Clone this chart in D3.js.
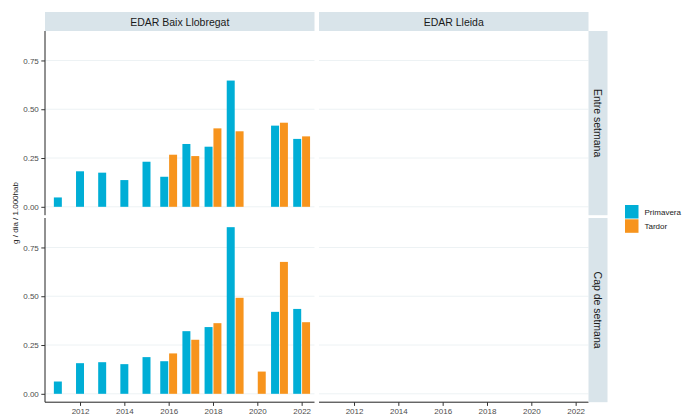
<!DOCTYPE html>
<html><head><meta charset="utf-8">
<script src="https://cdn.jsdelivr.net/npm/d3@7"></script>
<style>body{margin:0;background:#fff;}svg{display:block;font-family:"Liberation Sans",Arial,sans-serif;}</style>
</head><body><svg id="c" width="688" height="414"></svg>
<script>
const years = [2011,2012,2013,2014,2015,2016,2017,2018,2019,2020,2021,2022];
const series = ["Primavera","Tardor"];
const colors = ["#00AED6","#F7941D"];
const plants = ["EDAR Baix Llobregat","EDAR Lleida"];
const periods = ["Entre setmana","Cap de setmana"];
// Baix Llobregat, Entre setmana
const bllEntrePrimavera = [0.048,0.182,0.175,0.137,0.231,0.154,0.322,0.308,0.647,null,0.416,0.348];
const bllEntreTardor    = [null,null,null,null,null,0.267,0.260,0.402,0.387,null,0.431,0.361];
// Baix Llobregat, Cap de setmana
const bllCapPrimavera = [0.063,0.157,0.162,0.152,0.188,0.167,0.321,0.342,0.854,0,0.420,0.435];
const bllCapTardor    = [null,null,null,null,null,0.207,0.277,0.362,0.492,0.114,0.676,0.367];
const xTicks = [2012,2014,2016,2018,2020,2022];
const yTicks = [0,0.25,0.5,0.75];
const yTickLabels = ["0.00","0.25","0.50","0.75"];
const yLabel = "g / dia / 1.000hab";

const panelData = {
  "EDAR Baix Llobregat|Entre setmana":[bllEntrePrimavera,bllEntreTardor],
  "EDAR Baix Llobregat|Cap de setmana":[bllCapPrimavera,bllCapTardor],
  "EDAR Lleida|Entre setmana":[[],[]],
  "EDAR Lleida|Cap de setmana":[[],[]]
};

const svg = d3.select("#c");
const colX = [45,319], panelW = 269.5;
const rowY = [31,218], panelH = 184.2;
const x = d3.scaleLinear().domain([2010.42,2022.58]).range([0,panelW]);
const y = d3.scaleLinear().domain([-0.043,0.901]).range([panelH,0]);
const gridCol = "#EDF2F4", stripCol = "#D9E4EA", textCol = "#4D4D4D";
const barW = 0.36, off = 0.2;

plants.forEach((pl,ci)=>{
  // top strip
  svg.append("rect").attr("x",colX[ci]).attr("y",12).attr("width",panelW).attr("height",19).attr("fill",stripCol);
  svg.append("text").attr("x",colX[ci]+panelW/2).attr("y",25.5).attr("text-anchor","middle")
    .attr("font-size",10.5).attr("fill","#1A1A1A").text(pl);
  periods.forEach((pe,ri)=>{
    const g = svg.append("g").attr("transform",`translate(${colX[ci]},${rowY[ri]})`);
    g.selectAll("line.grid").data(yTicks).enter().append("line")
      .attr("x1",0).attr("x2",panelW).attr("y1",d=>y(d)).attr("y2",d=>y(d))
      .attr("stroke",gridCol).attr("stroke-width",1);
    const [pv,td] = panelData[pl+"|"+pe];
    years.forEach((yr,i)=>{
      const a = pv[i], b = td[i];
      const hasA = a!=null, hasB = b!=null;
      const vals = [a,b];
      vals.forEach((v,si)=>{
        if(v==null) return;
        let cx = yr;
        if(hasA && hasB) cx = yr + (si===0?-off:off);
        g.append("rect").attr("x",x(cx-barW/2)).attr("width",x(cx+barW/2)-x(cx-barW/2))
          .attr("y",y(Math.max(v,0))).attr("height",Math.abs(y(0)-y(v)))
          .attr("fill",colors[si]);
      });
    });
    if(ci===0){
      const ya = d3.axisLeft(y).tickValues(yTicks).tickFormat((d,i)=>yTickLabels[i]).tickSize(3.7).tickPadding(2.5);
      const ag = g.append("g").call(ya);
      ag.select(".domain").attr("d",`M0,0V${panelH}`).attr("stroke","#222");
      ag.selectAll(".tick line").attr("stroke","#333");
      ag.selectAll("text").attr("font-size",8).attr("fill",textCol).attr("font-family","Liberation Sans, Arial, sans-serif");
    }
    if(ri===1){
      const xa = d3.axisBottom(x).tickValues(xTicks).tickFormat(d3.format("d")).tickSize(3.7).tickPadding(2.5);
      const ag = g.append("g").attr("transform",`translate(0,${panelH})`).call(xa);
      ag.select(".domain").attr("d",`M0,0H${panelW}`).attr("stroke","#222");
      ag.selectAll(".tick line").attr("stroke","#333");
      ag.selectAll("text").attr("font-size",8).attr("fill",textCol).attr("font-family","Liberation Sans, Arial, sans-serif");
    }
    if(ci===1){
      svg.append("rect").attr("x",colX[1]+panelW).attr("y",rowY[ri]).attr("width",19).attr("height",panelH).attr("fill",stripCol);
      const tx = colX[1]+panelW+9.5, ty = rowY[ri]+panelH/2;
      svg.append("text").attr("transform",`translate(${tx},${ty}) rotate(90)`).attr("text-anchor","middle")
        .attr("dy","0.35em").attr("font-size",10.5).attr("fill","#1A1A1A").text(pe);
    }
  });
});

svg.append("text").attr("transform","translate(15,213) rotate(-90)").attr("text-anchor","middle")
  .attr("dy","0.35em").attr("font-size",8).attr("fill","#1A1A1A").text(yLabel);

const lg = svg.append("g").attr("transform","translate(625,205)");
series.forEach((s,i)=>{
  lg.append("rect").attr("x",0).attr("y",i*14.3).attr("width",13.5).attr("height",13.5).attr("fill",colors[i]);
  lg.append("text").attr("x",19.5).attr("y",i*14.3+6.8).attr("dy","0.35em").attr("font-size",8).attr("fill","#1A1A1A").text(s);
});
</script></body></html>
